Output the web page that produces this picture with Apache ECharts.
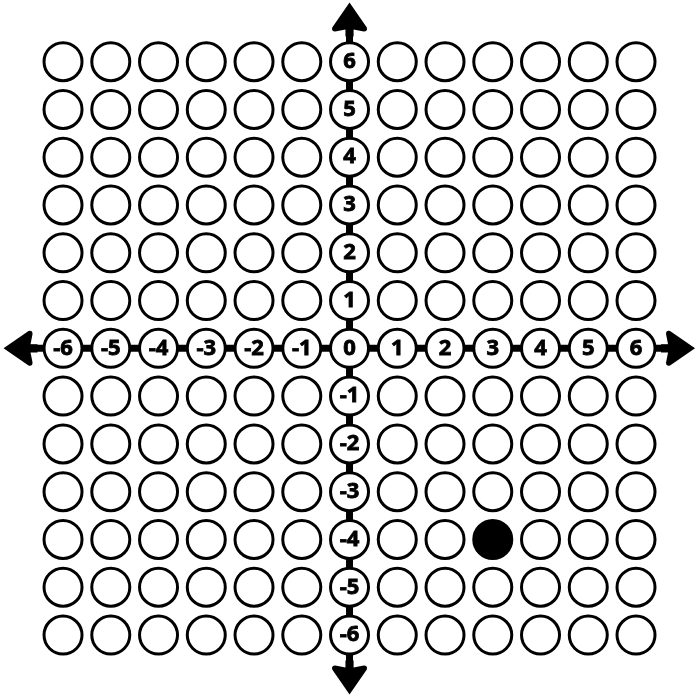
<!DOCTYPE html>
<html>
<head>
<meta charset="utf-8">
<script src="https://cdn.jsdelivr.net/npm/echarts@6/dist/echarts.min.js"></script>
<style>html,body{margin:0;padding:0;background:#fff;}#c{width:700px;height:700px;}</style>
</head>
<body>
<div id="c"></div>
<script>
// Data
var xValues = [-6, -5, -4, -3, -2, -1, 0, 1, 2, 3, 4, 5, 6];
var yValues = [-6, -5, -4, -3, -2, -1, 0, 1, 2, 3, 4, 5, 6];
var xTickLabels = ['-6', '-5', '-4', '-3', '-2', '-1', '0', '1', '2', '3', '4', '5', '6'];
var yTickLabels = ['-6', '-5', '-4', '-3', '-2', '-1', '0', '1', '2', '3', '4', '5', '6'];
var plottedPoint = [3, -4];
var xAxisRange = [-7.32, 7.34];
var yAxisRange = [-7.36, 7.29];
var axisLineEnds = [-6.9, 6.9];
var arrowPos = [-6.89, 6.88];

var chart = echarts.init(document.getElementById('c'));

var emptyCircles = [];
var labelCircles = [];
xValues.forEach(function (x) {
  yValues.forEach(function (y) {
    if (x === plottedPoint[0] && y === plottedPoint[1]) return;
    if (x === 0) {
      labelCircles.push({ value: [x, y], label: { formatter: yTickLabels[yValues.indexOf(y)] } });
    } else if (y === 0) {
      labelCircles.push({ value: [x, y], label: { formatter: xTickLabels[xValues.indexOf(x)] } });
    } else {
      emptyCircles.push([x, y]);
    }
  });
});

var arrowPath = 'path://M0,0 L17,25 Q18,29 14,29 L4,27 L4,34 L-4,34 L-4,27 L-14,29 Q-18,29 -17,25 Z';

var circleStyle = { color: '#fff', borderColor: '#000', borderWidth: 3, opacity: 1 };

chart.setOption({
  animation: false,
  backgroundColor: '#fff',
  grid: { left: 0, top: 0, width: 700, height: 700 },
  xAxis: { type: 'value', min: xAxisRange[0], max: xAxisRange[1], show: false },
  yAxis: { type: 'value', min: yAxisRange[0], max: yAxisRange[1], show: false },
  series: [
    {
      type: 'line', data: [[axisLineEnds[0], 0], [axisLineEnds[1], 0]],
      symbol: 'none', lineStyle: { color: '#000', width: 7 }, z: 1, silent: true
    },
    {
      type: 'line', data: [[0, axisLineEnds[0]], [0, axisLineEnds[1]]],
      symbol: 'none', lineStyle: { color: '#000', width: 7 }, z: 1, silent: true
    },
    {
      type: 'scatter', z: 1, symbol: arrowPath, symbolSize: [35, 34],
      itemStyle: { color: '#000', opacity: 1 },
      data: [
        { value: [arrowPos[0], 0], symbolRotate: 90 },
        { value: [arrowPos[1], 0], symbolRotate: -90 },
        { value: [0, arrowPos[1]], symbolRotate: 0 },
        { value: [0, arrowPos[0]], symbolRotate: 180 }
      ]
    },
    {
      type: 'scatter', z: 2, symbol: 'circle', symbolSize: 38,
      itemStyle: circleStyle, data: emptyCircles
    },
    {
      type: 'scatter', z: 2, symbol: 'circle', symbolSize: 38,
      itemStyle: circleStyle, data: labelCircles,
      label: {
        show: true, position: 'inside', color: '#000',
        fontFamily: 'Open Sans', fontWeight: 'bold', fontSize: 22,
        textBorderColor: '#000', textBorderWidth: 0.8
      }
    },
    {
      type: 'scatter', z: 2, symbol: 'circle', symbolSize: 38,
      itemStyle: { color: '#000', borderColor: '#000', borderWidth: 3, opacity: 1 },
      data: [plottedPoint]
    }
  ]
});
</script>
</body>
</html>
